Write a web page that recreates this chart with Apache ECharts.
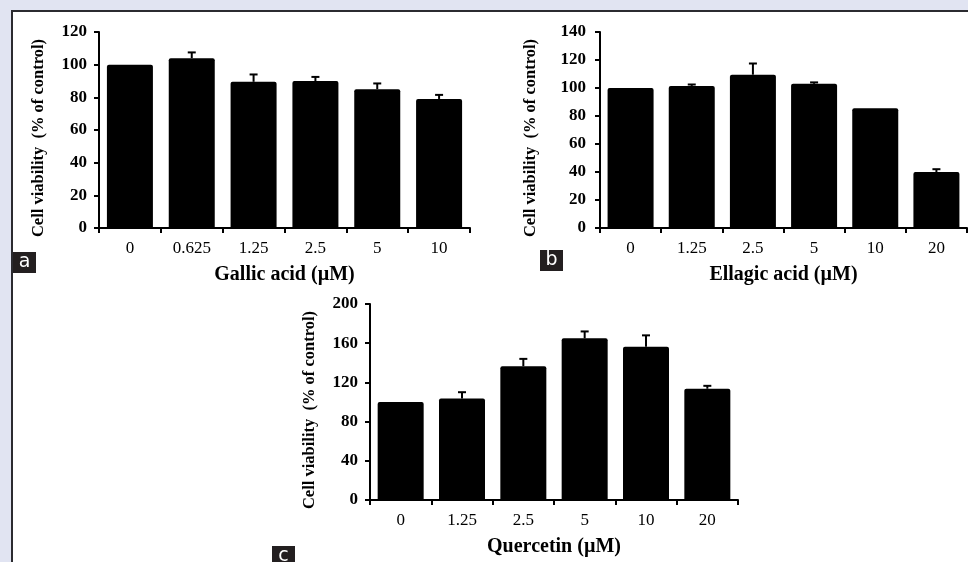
<!DOCTYPE html>
<html><head><meta charset="utf-8">
<script src="https://cdn.jsdelivr.net/npm/echarts@6/dist/echarts.min.js"></script>
<style>html,body{margin:0;padding:0;background:#e1e4f2;}#c{width:968px;height:562px;}</style>
</head><body><div id="c"></div>
<script>
// ---- data ----
var gallicCats = ['0','0.625','1.25','2.5','5','10'];
var gallicMean = [100, 104, 89.5, 90, 85, 79];
var gallicErr  = [0, 3.5, 4.5, 2.5, 3.5, 2.5];

var ellagicCats = ['0','1.25','2.5','5','10','20'];
var ellagicMean = [100, 101.5, 109.5, 103, 85.5, 40];
var ellagicErr  = [0, 1, 8, 1, 0, 2];

var quercetinCats = ['0','1.25','2.5','5','10','20'];
var quercetinMean = [100, 103.5, 136.5, 165, 156.5, 113.5];
var quercetinErr  = [0, 6.5, 7.5, 7, 11.5, 3];

var gallicTicks = {min:0, max:120, interval:20};
var ellagicTicks = {min:0, max:140, interval:20};
var quercetinTicks = {min:0, max:200, interval:40};

var serif = '"Liberation Serif","Times New Roman",serif';
var yTitle = 'Cell viability  (% of control)';

function xAxis(idx, cats, name) {
  return {
    type:'category', gridIndex: idx, data: cats, boundaryGap: true,
    axisLine:{show:true, lineStyle:{color:'#000', width:2}},
    axisTick:{show:true, alignWithLabel:false, length:5, lineStyle:{color:'#000', width:2}},
    axisLabel:{color:'#000', fontFamily:serif, fontSize:17, margin:12},
    name: name, nameLocation:'middle', nameGap:37,
    nameTextStyle:{color:'#000', fontFamily:serif, fontWeight:'bold', fontSize:20}
  };
}
function yAxis(idx, t, labelMargin, titleGap) {
  return {
    type:'value', gridIndex: idx, min:t.min, max:t.max, interval:t.interval,
    axisLine:{show:true, lineStyle:{color:'#000', width:2}},
    axisTick:{show:true, length:5, lineStyle:{color:'#000', width:2}},
    splitLine:{show:false},
    axisLabel:{color:'#000', fontFamily:serif, fontWeight:'bold', fontSize:17, margin:labelMargin},
    name: yTitle, nameLocation:'middle', nameGap:titleGap, nameRotate:90,
    nameTextStyle:{color:'#000', fontFamily:serif, fontWeight:'bold', fontSize:16.5, padding:[0,16,0,0]}
  };
}
function barSeries(idx, vals) {
  return {
    type:'bar', xAxisIndex: idx, yAxisIndex: idx, data: vals, barWidth: 46,
    itemStyle:{color:'#000', borderRadius:[2,2,0,0]}, silent:true, z:2
  };
}
function errSeries(idx, means, errs) {
  var d = means.map(function(m,i){ return [i, m, m + errs[i]]; });
  return {
    type:'custom', xAxisIndex: idx, yAxisIndex: idx, data: d, z:1, silent:true,
    renderItem: function(params, api) {
      var x = api.value(0);
      var lo = api.coord([x, api.value(1)]);
      var hi = api.coord([x, api.value(2)]);
      if (api.value(2) - api.value(1) <= 0) return {type:'group', children:[]};
      return {type:'group', children:[
        {type:'line', shape:{x1:lo[0], y1:lo[1], x2:hi[0], y2:hi[1]}, style:{stroke:'#000', lineWidth:2}},
        {type:'line', shape:{x1:hi[0]-4, y1:hi[1], x2:hi[0]+4, y2:hi[1]}, style:{stroke:'#000', lineWidth:2}}
      ]};
    }
  };
}
function tag(x, y, ch) {
  return {type:'group', left:x, top:y, children:[
    {type:'rect', shape:{x:0, y:0, width:23, height:21}, style:{fill:'#231f20'}},
    {type:'text', x:11.5, y:10.5, style:{text:ch, fill:'#fff', font:'19px "DejaVu Sans", sans-serif', align:'center', verticalAlign:'middle'}}
  ]};
}

var chart = echarts.init(document.getElementById('c'));
chart.setOption({
  backgroundColor:'#e1e4f2',
  animation:false,
  graphic:[
    {type:'rect', z:-10, shape:{x:12, y:11, width:970, height:560}, style:{fill:'#fff', stroke:'#2b2b30', lineWidth:2}},
    tag(13, 252, 'a'),
    tag(540, 250, 'b'),
    tag(272, 546, 'c')
  ],
  grid:[
    {left:99, right:498, top:32, bottom:334},
    {left:600, right:1, top:32, bottom:334},
    {left:370, right:230, top:304, bottom:62}
  ],
  xAxis:[
    xAxis(0, gallicCats, 'Gallic acid (\u00b5M)'),
    xAxis(1, ellagicCats, 'Ellagic acid (\u00b5M)'),
    xAxis(2, quercetinCats, 'Quercetin (\u00b5M)')
  ],
  yAxis:[
    yAxis(0, gallicTicks, 12, 52),
    yAxis(1, ellagicTicks, 14, 61),
    yAxis(2, quercetinTicks, 12, 52)
  ],
  series:[
    barSeries(0, gallicMean), errSeries(0, gallicMean, gallicErr),
    barSeries(1, ellagicMean), errSeries(1, ellagicMean, ellagicErr),
    barSeries(2, quercetinMean), errSeries(2, quercetinMean, quercetinErr)
  ]
});
</script></body></html>
